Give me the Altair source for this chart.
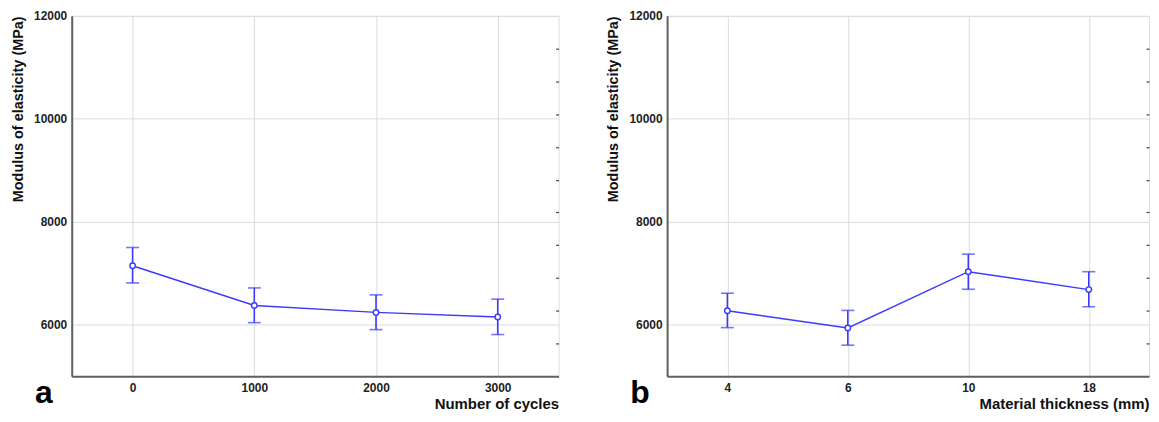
import altair as alt
import pandas as pd

# Panel a: number of cycles
cycles = ["0", "1000", "2000", "3000"]
cyc_mean = [7147, 6375, 6240, 6151]
cyc_upper = [7501, 6716, 6581, 6498]
cyc_lower = [6813, 6041, 5906, 5810]

# Panel b: material thickness
thick = ["4", "6", "10", "18"]
th_mean = [6273, 5938, 7031, 6684]
th_upper = [6613, 6279, 7372, 7031]
th_lower = [5945, 5604, 6690, 6350]

y_ticks = [6000, 8000, 10000, 12000]
minor_ticks = [5000 + 7000 * k / 11 for k in range(1, 11)]

BLUE = "#3a3aff"
FONT = "Liberation Sans"
H = 362


def panel(cats, mean, lo, hi, xtitle, letter, width):
    df = pd.DataFrame({"x": cats, "m": mean, "lo": lo, "hi": hi})
    xscale = alt.Scale(type="point", padding=0.5, domain=cats)
    yscale = alt.Scale(domain=[5000, 12000], nice=False, zero=False)
    x = alt.X(
        "x:N", scale=xscale, sort=cats,
        axis=alt.Axis(
            title=xtitle, labelAngle=0, ticks=False, grid=True,
            gridColor="#dcdcdc", domainColor="#606060", domainWidth=2,
            labelFont=FONT, labelFontSize=12, labelFontWeight="bold",
            labelColor="#222", labelPadding=6,
            titleFont=FONT, titleFontSize=15, titleFontWeight="bold",
            titleColor="#111", titleAnchor="end", titlePadding=3,
        ),
    )
    yax = alt.Axis(
        title="Modulus of elasticity (MPa)", values=y_ticks, format="d",
        ticks=False, grid=True, gridColor="#dcdcdc",
        domainColor="#606060", domainWidth=2,
        labelFont=FONT, labelFontSize=12, labelFontWeight="bold",
        labelColor="#222", labelPadding=5,
        titleFont=FONT, titleFontSize=14.5, titleFontWeight="bold",
        titleColor="#111", titleAnchor="end", titlePadding=8,
    )
    base = alt.Chart(df)
    line = base.mark_line(color=BLUE, strokeWidth=1.4).encode(
        x=x, y=alt.Y("m:Q", scale=yscale, axis=yax))
    rules = base.mark_rule(color=BLUE, strokeWidth=1.6).encode(
        x=x, y=alt.Y("lo:Q", scale=yscale), y2="hi:Q")
    cap_lo = base.mark_tick(color=BLUE, size=13, thickness=1.6).encode(
        x=x, y=alt.Y("lo:Q", scale=yscale))
    cap_hi = base.mark_tick(color=BLUE, size=13, thickness=1.6).encode(
        x=x, y=alt.Y("hi:Q", scale=yscale))
    pts = base.mark_point(shape="circle", filled=True, fill="white",
                          stroke=BLUE, strokeWidth=1.4, size=30,
                          opacity=1).encode(
        x=x, y=alt.Y("m:Q", scale=yscale))
    main = alt.layer(line, rules, cap_lo, cap_hi, pts)
    right = base.mark_point(opacity=0).encode(
        x=x,
        y=alt.Y("m:Q", scale=yscale, axis=alt.Axis(
            orient="right", values=minor_ticks, labels=False, domain=False,
            grid=False, title=None, tickSize=3, offset=-3,
            tickColor="#444", tickWidth=1.2)),
    )
    return alt.layer(main, right).resolve_scale(y="independent").properties(
        width=width, height=H,
        title=alt.TitleParams(
            letter, orient="bottom", anchor="start", frame="group",
            font=FONT, fontSize=32, fontWeight="bold", color="#000",
            baseline="bottom", dx=-37, offset=-1),
    )


p1 = panel(cycles, cyc_mean, cyc_lower, cyc_upper, "Number of cycles", "a", 489)
p2 = panel(thick, th_mean, th_lower, th_upper, "Material thickness (mm)", "b", 484)

chart = alt.hconcat(p1, p2, spacing=45).properties(
    padding={"left": 2, "top": 0, "right": 0, "bottom": 0},
).configure_view(stroke="#606060", strokeWidth=2).configure(background="white")

chart.save("out.html", embed_options={"renderer": "svg", "actions": False})
